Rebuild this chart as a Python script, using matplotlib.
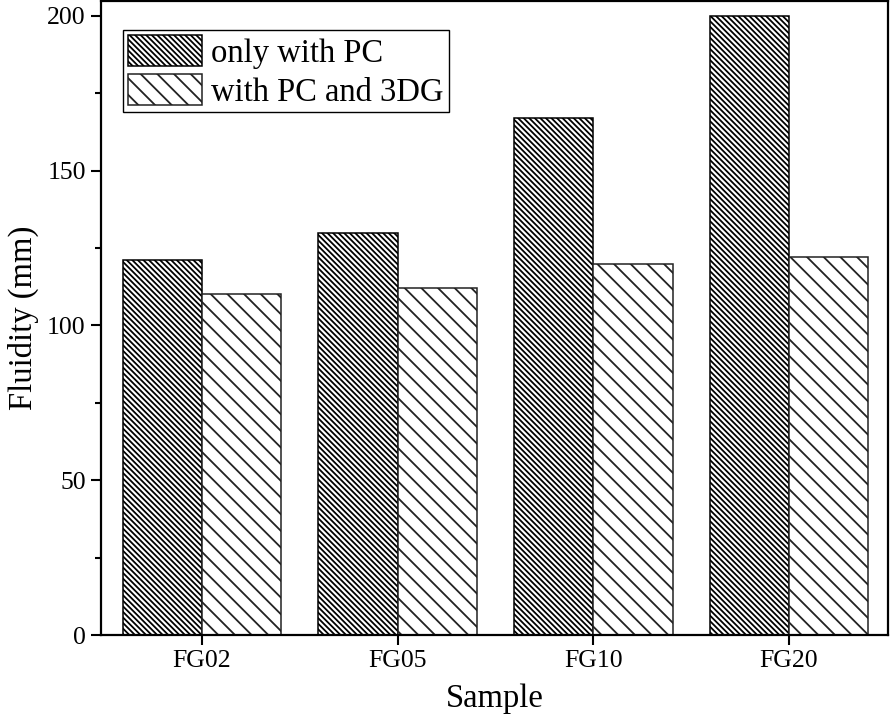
import matplotlib.pyplot as plt
import numpy as np

# Fluidity of samples, with PC only vs with PC + 3DG
samples = ["FG02", "FG05", "FG10", "FG20"]
only_pc = [121, 130, 167, 200]
pc_3dg = [110, 112, 120, 122]
series_names = ["only with PC", "with PC and 3DG"]

plt.rcParams['font.family'] = ['Liberation Serif', 'DejaVu Serif']
plt.rcParams['hatch.linewidth'] = 1.3

fig = plt.figure(figsize=(8.9, 7.28), dpi=100)
ax = fig.add_axes([0.1135, 0.1277, 0.8843, 0.8709])

x = np.arange(len(samples))
w = 0.405
ax.bar(x - w / 2, only_pc, w, color='white', edgecolor='black',
       hatch='\\' * 6, linewidth=1.1, label=series_names[0])
ax.bar(x + w / 2, pc_3dg, w, color='white', edgecolor='#222222',
       hatch='\\' * 2, linewidth=1.1, label=series_names[1])

ax.set_xlim(-0.516, 3.506)
ax.set_ylim(0, 204.8)
ax.set_xticks(x)
ax.set_xticklabels(samples)
ax.set_yticks([0, 50, 100, 150, 200])
ax.set_yticks(np.arange(25, 205, 50), minor=True)

ax.tick_params(axis='both', which='major', direction='out', length=7, width=1.5,
               labelsize=18.5, pad=4)
ax.tick_params(axis='y', which='minor', direction='out', length=4, width=1.5)
for s in ax.spines.values():
    s.set_linewidth(1.6)

ax.set_xlabel("Sample", fontsize=23.5, labelpad=8)
ax.set_ylabel("Fluidity (mm)", fontsize=23.5, labelpad=6)

leg = ax.legend(loc='upper left', bbox_to_anchor=(0.028, 0.954), borderaxespad=0,
                fontsize=23.5, frameon=True, fancybox=False, edgecolor='black',
                handlelength=2.27, handleheight=1.1, labelspacing=0.15,
                handletextpad=0.28, borderpad=0.15)
leg.get_frame().set_linewidth(1.0)
leg.get_frame().set_alpha(1)

fig.savefig("out.png", dpi=100)
